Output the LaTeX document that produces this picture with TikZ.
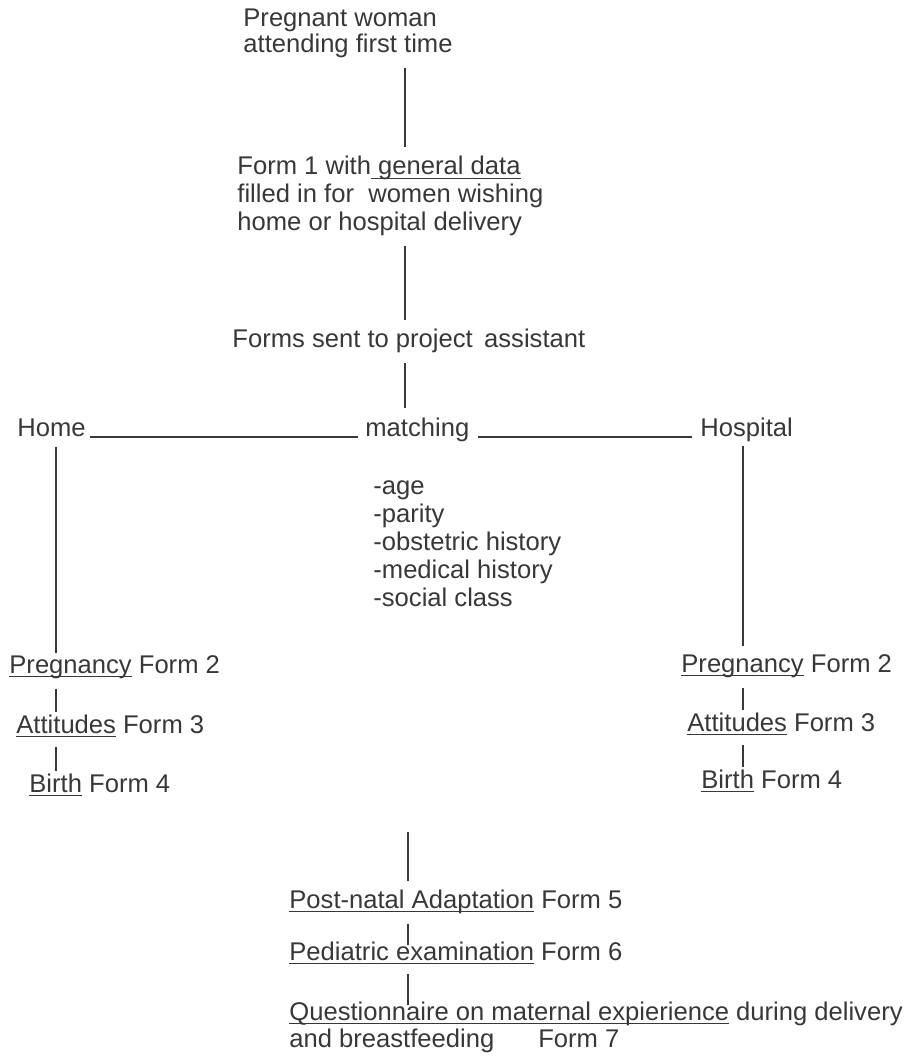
\documentclass[tikz,border=0pt]{standalone}
\usepackage{fontspec}
\setmainfont{Liberation Sans}
\definecolor{ink}{gray}{0.22}
% underline at a fixed depth, through the descenders
\newcommand{\uln}[1]{\setbox0\hbox{#1}\rlap{\rule[-2pt]{\wd0}{0.55pt}}#1}

\begin{document}
\begin{tikzpicture}[x=0.5pt,y=-0.5pt,
    lbl/.style={inner sep=0pt, anchor=base west, align=left, text=ink,
        font=\fontsize{12.8}{13.5}\selectfont},
    link/.style={draw=ink, line width=0.9pt, shorten <=4.5pt, shorten >=4.5pt},
    tick/.style={draw=ink, line width=1.4pt, shorten <=5pt, shorten >=1pt},
    rail/.style={draw=ink, line width=1.1pt}]
    \useasboundingbox (0,0) rectangle (918,1063);

    % Stems
    \coordinate (cstem) at (405,0);
    \coordinate (lstem) at (56,0);
    \coordinate (rstem) at (743,0);
    \coordinate (bstem) at (408,832);

    % Intake (multi-line nodes sit on their last baseline)
    \node[lbl, font=\fontsize{12.8}{13}\selectfont] (woman) at (243,53)
        {Pregnant woman\\attending first time};
    \node[lbl, font=\fontsize{12.8}{14}\selectfont] (form1) at (237,231)
        {Form 1 with\uln{ general data}\\filled in for\ \ women wishing\\home or hospital delivery};
    \node[lbl] (sent) at (232,348) {Forms sent to project\ \,assistant};

    % Matching
    \node[lbl] (home) at (17,436) {Home};
    \node[lbl] (match) at (365,436) {matching};
    \node[lbl] (hosp) at (700,436) {Hospital};
    \node[lbl, font=\fontsize{12.8}{14}\selectfont] (criteria) at (373,606)
        {-age\\-parity\\-obstetric history\\-medical history\\-social class};

    % Home branch
    \node[lbl] (preghome) at (9,673) {\uln{Pregnancy} Form 2};
    \node[lbl] (atthome) at (16,733) {\uln{Attitudes} Form 3};
    \node[lbl] (birthhome) at (29,792) {\uln{Birth} Form 4};

    % Hospital branch
    \node[lbl] (preghosp) at (681,672) {\uln{Pregnancy} Form 2};
    \node[lbl] (atthosp) at (687,731) {\uln{Attitudes} Form 3};
    \node[lbl] (birthhosp) at (701,788) {\uln{Birth} Form 4};

    % Follow-up
    \node[lbl] (postnatal) at (289,908) {\uln{Post-natal Adaptation} Form 5};
    \node[lbl] (pediatric) at (289,960) {\uln{Pediatric examination} Form 6};
    \node[lbl] (quest) at (289,1047)
        {\uln{Questionnaire on maternal expierience} during delivery\\and breastfeeding\hspace{22pt}Form 7};

    % Connectors
    \draw[link] (woman.south -| cstem) -- (form1.north -| cstem);
    \draw[link] (form1.south -| cstem) -- (sent.north -| cstem);
    \draw[link] (sent.south -| cstem) -- (match.north -| cstem);
    \draw[rail, shorten <=2pt, shorten >=3.5pt]
        ([yshift=-0.5pt]home.base east) -- ([yshift=-0.5pt]match.base west);
    \draw[rail, shorten <=4pt, shorten >=4pt]
        ([yshift=-0.5pt]match.base east) -- ([yshift=-0.5pt]hosp.base west);
    \draw[link, shorten <=5pt, shorten >=1pt] (home.south -| lstem) -- (preghome.north -| lstem);
    \draw[link, shorten <=2pt, shorten >=4pt] (hosp.south -| rstem) -- (preghosp.north -| rstem);
    \draw[tick] (preghome.south -| lstem) -- (atthome.north -| lstem);
    \draw[tick] (atthome.south -| lstem) -- (birthhome.north -| lstem);
    \draw[tick] (preghosp.south -| rstem) -- (atthosp.north -| rstem);
    \draw[tick] (atthosp.south -| rstem) -- (birthhosp.north -| rstem);
    \draw[tick, shorten <=0pt, shorten >=4pt] (bstem) -- (postnatal.north -| bstem);
    \draw[tick, shorten >=-2pt] (postnatal.south -| bstem) -- (pediatric.north -| bstem);
    \draw[tick, shorten >=-2pt] (pediatric.south -| bstem) -- (quest.north -| bstem);
\end{tikzpicture}
\end{document}
